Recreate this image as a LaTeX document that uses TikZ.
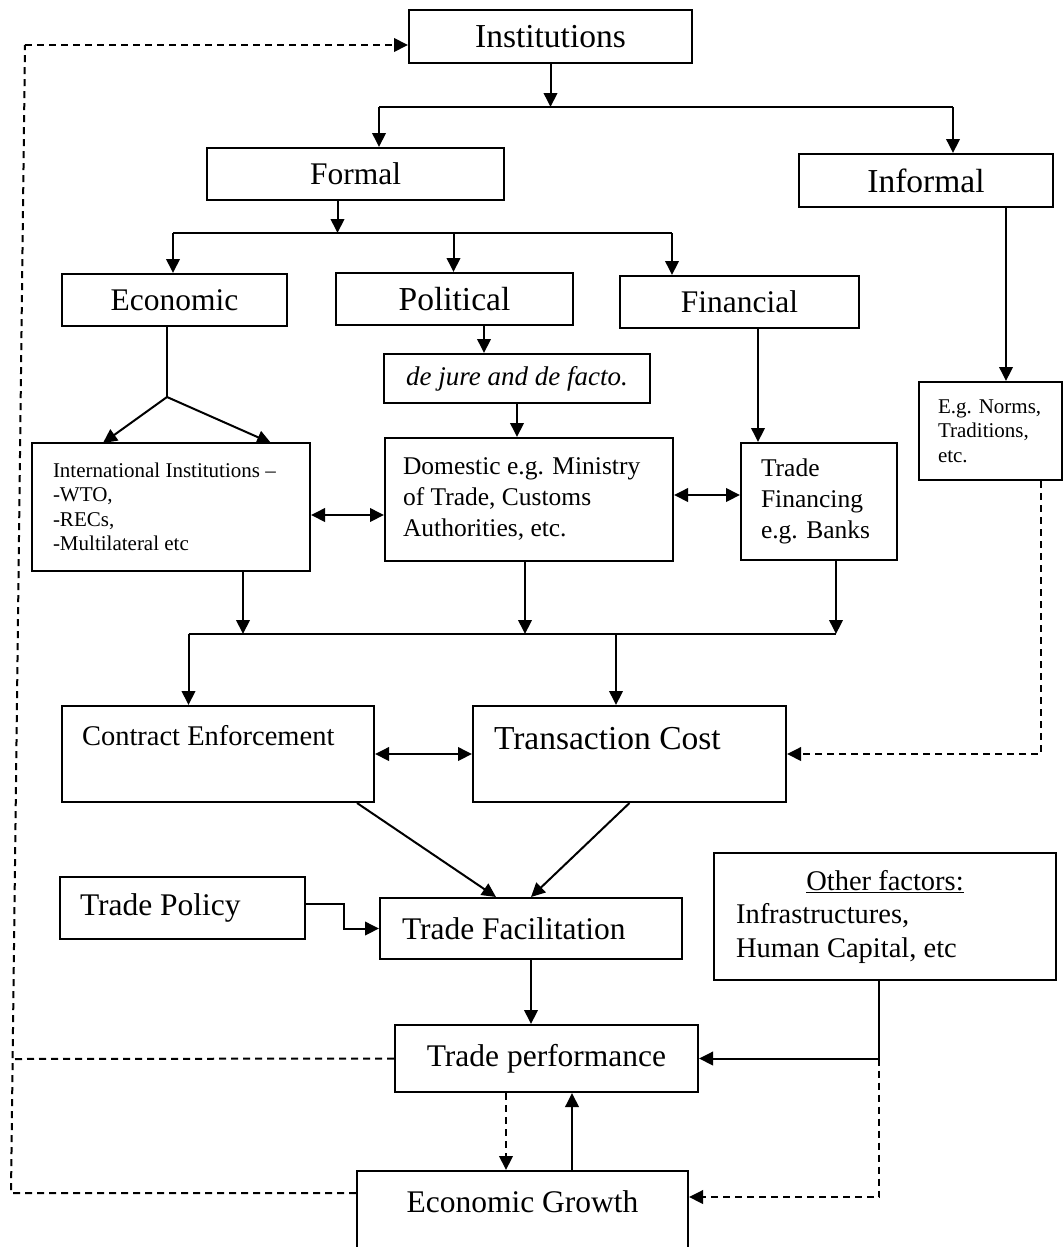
\documentclass[tikz,border=0pt]{standalone}
\usepackage{fontspec}
\setmainfont{Liberation Serif}
\usetikzlibrary{arrows.meta}
\newcommand{\fsA}{\fontsize{33.5}{38}\selectfont}
\newcommand{\fsB}{\fontsize{31.5}{36}\selectfont}
\newcommand{\fsC}{\fontsize{28.5}{33.5}\selectfont}
\newcommand{\fsD}{\fontsize{25.5}{31}\selectfont}
\newcommand{\fsE}{\fontsize{21}{24.5}\selectfont}
\newcommand{\plainsp}{\spaceskip=0pt\xspaceskip=0pt\hyphenpenalty=10000\exhyphenpenalty=10000\relax}
\tikzset{
	>={Triangle[length=14pt,width=13.5pt]},
	box/.style={draw, rectangle, inner xsep=20pt, inner ysep=0pt},
	lbox/.style={box, align=left, execute at begin node=\plainsp},
	fb/.style={dash pattern=on 7pt off 5pt}}

\begin{document}
\begin{tikzpicture}[x=1pt, y=-1pt, line width=2pt]
		\useasboundingbox (0,0) rectangle (1063,1247);
		\node[box, minimum width=283pt, minimum height=53pt, font=\fsA] (inst) at (550.5,36.5) {Institutions};
		\node[box, minimum width=297pt, minimum height=52pt, font=\fsB] (formal) at (355.5,174) {Formal};
		\node[box, minimum width=254pt, minimum height=53pt, font=\fsA] (informal) at (926,180.5) {Informal};
		\node[box, minimum width=225pt, minimum height=52pt, font=\fsB] (econ) at (174.5,300) {Economic};
		\node[box, minimum width=237pt, minimum height=52pt, font=\fsA] (polit) at (454.5,299) {Political};
		\node[box, minimum width=239pt, minimum height=52pt, font=\fsB] (fin) at (739.5,302) {Financial};
		\node[box, minimum width=266pt, minimum height=49pt, font=\fontsize{27}{31}\selectfont] (dejure) at (517,378.5) {\textit{de jure and de facto.}};
		\node[lbox, inner xsep=21pt, text width=236pt, minimum height=128pt, font=\fsE] (intl) at (171,507)
			{International Institutions --\\-WTO,\\-RECs,\\-Multilateral etc};
		\node[lbox, inner xsep=18pt, text width=252pt, minimum height=123pt, font=\fsD] (domestic) at (529,499.5)
			{Domestic e.g. Ministry\\of Trade, Customs\\Authorities, etc.};
		\node[lbox, text width=116pt, minimum height=117pt, font=\fsD] (tradefin) at (819,501.5) {Trade\\Financing\\e.g. Banks};
		\node[lbox, inner xsep=19pt, text width=105pt, minimum height=98pt, font=\fsE] (norms) at (990.5,431) {E.g. Norms,\\Traditions,\\etc.};
		\node[lbox, text width=272pt, text height=39pt, text depth=57pt, font=\fsC] (contract) at (218,754) {Contract Enforcement};
		\node[lbox, inner xsep=21pt, text width=271pt, text height=43pt, text depth=53pt, font=\fsA] (transcost) at (629.5,754) {Transaction Cost};
		\node[lbox, text width=205pt, minimum height=62pt, font=\fsB] (tpolicy) at (182.5,908) {Trade Policy};
		\node[lbox, inner xsep=22pt, text width=258pt, minimum height=61pt, font=\fsB] (tfacil) at (531,928.5) {Trade Facilitation};
		\node[lbox, inner xsep=22pt, text width=298pt, minimum height=127pt, font=\fsC] (other) at (885,916.5)
			{\makebox[298pt]{\underline{Other factors:}}\\Infrastructures,\\Human Capital, etc};
		\node[box, minimum width=303pt, minimum height=67pt, font=\fsB] (tperf) at (546.5,1058.5) {Trade performance};
		\node[box, minimum width=331pt, text height=41.5pt, text depth=49.5pt, font=\fsB] (growth) at (522.5,1216.5) {Economic Growth};

		\coordinate (tl) at (379,107);
		\coordinate (tr) at (953,107);
		\draw[->] (inst.south) -- (inst.south |- tl);
		\draw (tl) -- (tr);
		\draw[->] (tl) -- (tl |- formal.north);
		\draw[->] (tr) -- (tr |- informal.north);

		\coordinate (fa) at (337.5,233);
		\coordinate (fl) at (173,233);
		\coordinate (fm) at (453.5,233);
		\coordinate (fr) at (672,233);
		\draw[->] (formal.south -| fa) -- (fa);
		\draw (fl) -- (fr);
		\draw[->] (fl) -- (fl |- econ.north);
		\draw[->] (fm) -- (fm |- polit.north);
		\draw[->] (fr) -- (fr |- fin.north);

		\coordinate (es) at (167,397);
		\coordinate (ia) at (103,443);
		\coordinate (ib) at (271,443);
		\draw (econ.south -| es) -- (es);
		\draw[->] (es) -- (ia);
		\draw[->] (es) -- (ib);

		\coordinate (px) at (484,0);
		\coordinate (fx) at (758,0);
		\coordinate (nx) at (1006,0);
		\draw[->] (polit.south -| px) -- (dejure.north -| px);
		\draw[->] (dejure.south) -- (dejure.south |- domestic.north);
		\draw[->] (fin.south -| fx) -- (tradefin.north -| fx);
		\draw[->] (informal.south -| nx) -- (norms.north -| nx);

		\coordinate (dy1) at (0,515);
		\coordinate (dy2) at (0,495);
		\draw[<->] (intl.east |- dy1) -- (domestic.west |- dy1);
		\draw[<->] (domestic.east |- dy2) -- (tradefin.west |- dy2);

		\coordinate (bl) at (188.5,634);
		\coordinate (bm) at (616,634);
		\coordinate (br) at (836,634);
		\coordinate (sx1) at (243,634);
		\coordinate (sx2) at (525,634);
		\draw[->] (intl.south -| sx1) -- (sx1);
		\draw[->] (domestic.south -| sx2) -- (sx2);
		\draw[->] (tradefin.south -| br) -- (br);
		\draw (bl) -- (br);
		\draw[->] (bl) -- (bl |- contract.north);
		\draw[->] (bm) -- (bm |- transcost.north);

		\draw[<->] (contract.east) -- (transcost.west);
		\coordinate (gx) at (1041,0);
		\draw[fb, ->] (norms.south -| gx) |- (transcost.east);

		\coordinate (cx) at (357,0);
		\coordinate (tx) at (496,0);
		\draw[->] (contract.south -| cx) -- (tfacil.north -| tx);
		\draw[->] (transcost.south) -- (tfacil.north);
		\draw[->] ([yshift=4pt]tpolicy.east) -- ++(38,0) |- (tfacil.west);
		\draw[->] (tfacil.south) -- (tfacil.south |- tperf.north);

		\coordinate (ox) at (879,0);
		\coordinate (oj) at (tperf.east -| ox);
		\coordinate (gy) at (0,1197);
		\draw[->] (other.south -| ox) |- (tperf.east);
		\draw[fb, ->] (oj) |- (growth.east |- gy);

		\coordinate (dx) at (506,0);
		\coordinate (ux) at (572,0);
		\draw[fb, ->] (tperf.south -| dx) -- (growth.north -| dx);
		\draw[->] (growth.north -| ux) -- (tperf.south -| ux);

		\coordinate (lt) at (25,45);
		\coordinate (lb) at (11,1193);
		\coordinate (lm) at (12,1059);
		\draw[fb] (growth.west |- lb) -- (lb) -- (lt);
		\draw[fb, ->] (lt) -- (lt -| inst.west);
		\draw[fb] (tperf.west) -- (lm);
	\end{tikzpicture}
\end{document}
